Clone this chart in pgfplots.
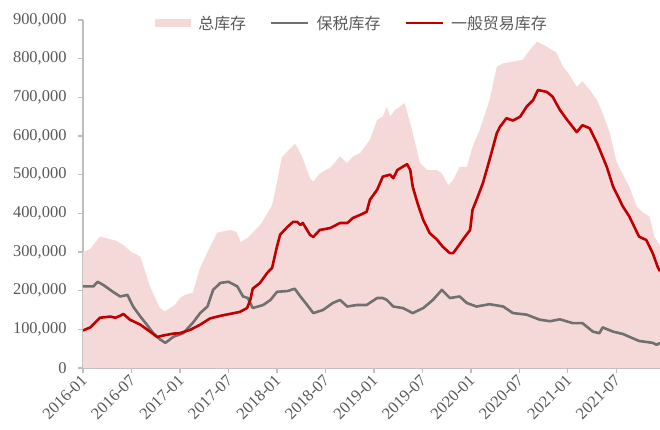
\documentclass[border=0pt]{standalone}
\usepackage{fontspec}
\setmainfont{Liberation Serif}
\newfontfamily\cjk{Noto Sans CJK SC}
\usepackage{pgfplots}
\pgfplotsset{compat=1.18}

\definecolor{totfill}{RGB}{245,216,216}
\definecolor{tradered}{RGB}{192,0,0}
\definecolor{bondgray}{RGB}{112,112,112}
\definecolor{axisgray}{RGB}{190,190,190}
\definecolor{labelgray}{RGB}{89,89,89}

% x = months since 2016-01, y = tonnes
\pgfplotstableread{
m v
0 300000
0.9 308000
2.1 340000
3.0 335000
4.0 330000
5.0 318000
6.0 300000
7.1 288000
8.3 210000
9.5 156000
10.1 146000
11.4 164000
12.0 181000
12.6 189000
13.6 195000
14.5 260000
15.7 312000
16.6 350000
18.2 357000
19.0 352000
19.5 326000
20.4 337000
22.0 372000
23.3 417000
23.5 430000
24.0 480000
24.6 545000
25.3 560000
26.2 580000
26.6 568000
27.2 542000
28.1 490000
28.5 482000
29.3 503000
30.6 518000
31.8 547000
32.7 530000
33.4 547000
34.3 556000
35.5 590000
36.4 642000
37.1 650000
37.6 676000
38.0 650000
38.6 667000
39.8 685000
40.5 633000
41.1 582000
41.7 530000
42.6 512000
43.8 512000
44.4 503000
45.2 473000
45.8 486000
46.6 520000
47.5 520000
48.2 572000
49.1 616000
50.3 693000
51.2 779000
52.0 788000
54.4 797000
55.3 823000
56.2 844000
57.4 831000
58.6 815000
59.4 779000
60.2 758000
61.1 727000
61.8 742000
62.7 719000
63.6 693000
64.3 659000
65.2 607000
66.0 535000
66.8 500000
67.6 469000
68.5 418000
69.3 402000
70.1 392000
70.7 340000
71.4 315000
}\totaltable

\pgfplotstableread{
m v
0 211000
1.3 211000
1.8 223000
2.5 215000
3.7 197000
4.6 185000
5.5 189000
6.2 159000
7.1 133000
7.9 112000
8.7 90000
9.6 73000
10.2 65000
11.2 81000
12.4 90000
13.6 117000
14.5 142000
15.4 159000
16.1 202000
17.0 220000
18.0 223000
19.1 211000
19.8 185000
20.4 181000
21.0 155000
22.3 163000
23.2 176000
24.0 197000
25.3 199000
26.2 205000
26.9 185000
27.7 164000
28.5 142000
29.7 150000
30.9 168000
31.8 176000
32.7 159000
33.9 163000
35.1 163000
36.4 181000
37.1 181000
37.6 176000
38.4 159000
39.6 155000
40.8 142000
42.1 155000
43.3 176000
44.4 202000
45.4 181000
46.6 185000
47.5 168000
48.7 159000
50.3 165000
52.0 159000
53.2 142000
54.9 138000
56.5 125000
57.8 121000
59.0 126000
60.6 116000
61.8 116000
63.1 94000
63.9 90000
64.3 105000
65.6 94000
66.8 88000
68.8 70000
70.5 65000
71.0 60000
71.4 65000
}\bondtable

\pgfplotstableread{
m v
0 97000
0.9 105000
2.1 130000
3.4 133000
4.0 130000
4.6 135000
5.0 140000
5.8 125000
7.1 112000
8.3 94000
9.2 80000
9.9 84000
11.2 89000
12.0 90000
13.3 99000
14.5 112000
15.7 128000
17.0 135000
18.2 140000
19.4 145000
20.3 155000
20.7 176000
21.0 205000
21.9 220000
22.8 246000
23.4 259000
24.0 314000
24.4 345000
25.3 365000
26.0 378000
26.5 378000
26.9 370000
27.2 375000
28.1 344000
28.5 339000
29.3 357000
30.6 362000
31.8 375000
32.7 375000
33.4 388000
34.3 396000
35.1 404000
35.5 435000
36.4 461000
37.1 495000
38.0 500000
38.4 491000
38.9 512000
39.6 521000
40.1 527000
40.5 512000
40.8 469000
41.4 426000
42.1 383000
42.9 349000
43.8 332000
44.5 314000
45.4 297000
45.8 297000
46.4 314000
47.0 332000
47.9 357000
48.2 409000
48.7 435000
49.5 479000
50.3 538000
51.2 607000
51.6 624000
52.4 646000
53.2 640000
54.1 650000
54.9 676000
55.7 693000
56.3 719000
57.4 714000
58.1 702000
59.0 668000
59.9 642000
61.1 610000
61.8 628000
62.7 620000
63.6 582000
64.8 521000
65.6 469000
66.8 418000
67.6 392000
68.8 340000
69.7 331000
70.5 297000
71.1 262000
71.4 250000
}\tradetable

\begin{document}
\begin{tikzpicture}
\begin{axis}[
  scale only axis,
  width=577bp, height=348bp,
  xmin=0, xmax=71.4,
  ymin=0, ymax=900000,
  axis x line*=bottom,
  axis y line*=left,
  axis line style={-, draw=axisgray, line width=1.2bp},
  tick align=outside,
  major tick length=5bp,
  tick style={draw=axisgray, line width=1.2bp},
  xtick={0,6,...,66},
  xticklabels={2016-01,2016-07,2017-01,2017-07,2018-01,2018-07,2019-01,2019-07,2020-01,2020-07,2021-01,2021-07},
  ytick={0,100000,...,900000},
  scaled y ticks=false,
  /pgf/number format/.cd, fixed, 1000 sep={,}, assume math mode=true, /pgfplots/.cd,
  ticklabel style={font=\fontsize{16.5}{19}\selectfont, text=labelgray},
  yticklabel style={xshift=-8bp},
  xticklabel style={rotate=45, anchor=east, yshift=-4bp, xshift=1bp},
  legend columns=3,
  legend style={
    at={(axis description cs:0.125,0.991)}, anchor=west,
    draw=none, fill=none, inner sep=0pt,
    font=\cjk\fontsize{16}{18}\selectfont, text=labelgray,
    /tikz/every odd column/.append style={column sep=5bp},
    /tikz/every even column/.append style={column sep=22bp},
  },
  legend cell align=left,
]
\addplot[fill=totfill, draw=none,
  legend image code/.code={\path[fill=totfill] (0bp,-4bp) rectangle (36bp,4bp);}]
  table[x=m, y=v] {\totaltable} \closedcycle;
\addlegendentry{总库存}
\addplot[bondgray, line width=2.6bp, line join=round,
  legend image code/.code={\draw[bondgray, line width=2.6bp] (0bp,0bp) -- (37bp,0bp);}]
  table[x=m, y=v] {\bondtable};
\addlegendentry{保税库存}
\addplot[tradered, line width=2.6bp, line join=round,
  legend image code/.code={\draw[tradered, line width=2.6bp] (0bp,0bp) -- (37bp,0bp);}]
  table[x=m, y=v] {\tradetable};
\addlegendentry{一般贸易库存}
\end{axis}
\pgfresetboundingbox
\useasboundingbox (-83bp,-62bp) rectangle (577bp,368bp);
\end{tikzpicture}
\end{document}
